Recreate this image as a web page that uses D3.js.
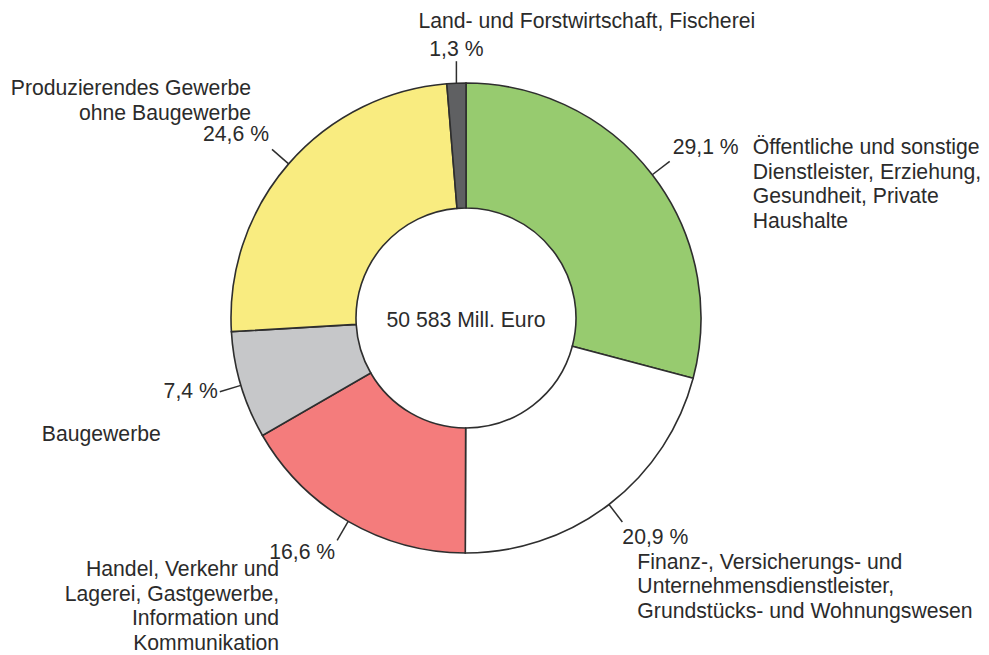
<!DOCTYPE html>
<html>
<head>
<meta charset="utf-8">
<script src="https://cdn.jsdelivr.net/npm/d3@7.9.0/dist/d3.min.js"></script>
<style>
  body { margin: 0; background: #fff; }
  svg text { font-family: "Liberation Sans", Arial, sans-serif; font-size: 21.2px; fill: #2b2b2b; }
</style>
</head>
<body>
<svg id="chart" width="989" height="655"></svg>
<script>
// shares of gross value added by sector, clockwise from the top
const categories = [
  ['Öffentliche und sonstige', 'Dienstleister, Erziehung,', 'Gesundheit, Private', 'Haushalte'],
  ['Finanz-, Versicherungs- und', 'Unternehmensdienstleister,', 'Grundstücks- und Wohnungswesen'],
  ['Handel, Verkehr und', 'Lagerei, Gastgewerbe,', 'Information und', 'Kommunikation'],
  ['Baugewerbe'],
  ['Produzierendes Gewerbe', 'ohne Baugewerbe'],
  ['Land- und Forstwirtschaft, Fischerei']
];
const values = [29.1, 20.9, 16.6, 7.4, 24.6, 1.3];
const percentLabels = ['29,1 %', '20,9 %', '16,6 %', '7,4 %', '24,6 %', '1,3 %'];
const colors = ['#97cb6f', '#ffffff', '#f47c7c', '#c6c7c9', '#f9ec80', '#5f6062'];
const totalLabel = '50 583 Mill. Euro';

// where each label sits, relative to the end of its leader line
const layout = [
  { pct: [3, -7, 'start'],  name: [83, -7, 'start'] },
  { pct: [0, 22, 'start'],  name: [15, 47, 'start'] },
  { pct: [-2, 19, 'end'],   name: [-58, 36, 'end'] },
  { pct: [-2, 6, 'end'],    name: [-178, 49, 'start'] },
  { pct: [-3, -8, 'end'],   name: [-21, -54, 'end'] },
  { pct: [0, -5, 'middle'], name: [-38, -33, 'start'] }
];
const lineHeight = 24.4;

const svg = d3.select('#chart');
const cx = 466, cy = 318;
const outerR = 235, innerR = 110, leadLen = 22;

const g = svg.append('g').attr('transform', `translate(${cx},${cy})`);

const pie = d3.pie().sort(null).value((d) => d);
const arcs = pie(values);
const arc = d3.arc().innerRadius(innerR).outerRadius(outerR);

g.selectAll('path.slice')
  .data(arcs)
  .join('path')
  .attr('class', 'slice')
  .attr('d', arc)
  .attr('fill', (d, i) => colors[i])
  .attr('stroke', '#2e2e2e')
  .attr('stroke-width', 1.6);

// leader lines
const onEdge = d3.arc().innerRadius(outerR).outerRadius(outerR);
const outside = d3.arc().innerRadius(outerR + leadLen).outerRadius(outerR + leadLen);

arcs.forEach((d, i) => {
  const [x0, y0] = onEdge.centroid(d);
  let [x1, y1] = outside.centroid(d);
  if (i === 5) x1 = x0; // the small slice has a straight vertical leader
  g.append('line')
    .attr('x1', x0).attr('y1', y0)
    .attr('x2', x1).attr('y2', y1)
    .attr('stroke', '#2e2e2e')
    .attr('stroke-width', 1.5);

  const L = layout[i];
  g.append('text')
    .attr('x', x1 + L.pct[0])
    .attr('y', y1 + L.pct[1])
    .attr('text-anchor', L.pct[2])
    .text(percentLabels[i]);

  const t = g.append('text')
    .attr('text-anchor', L.name[2]);
  categories[i].forEach((line, k) => {
    t.append('tspan')
      .attr('x', x1 + L.name[0])
      .attr('y', y1 + L.name[1] + k * lineHeight)
      .text(line);
  });
});

g.append('text')
  .attr('x', 0)
  .attr('y', 9)
  .attr('text-anchor', 'middle')
  .text(totalLabel);
</script>
</body>
</html>
